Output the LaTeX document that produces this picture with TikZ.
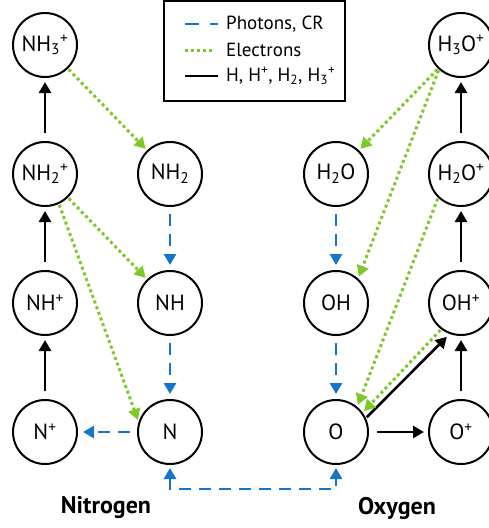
\documentclass[tikz,border=0pt]{standalone}
\usepackage{fontspec}
\setmainfont{PT Sans}
\usetikzlibrary{arrows.meta}
\usetikzlibrary{positioning}

\definecolor{photonblue}{RGB}{20,118,200}
\definecolor{electrongreen}{RGB}{126,200,40}

\begin{document}
\begin{tikzpicture}[node distance=129pt, x=1pt, y=1pt]
    % Define styles
    \tikzstyle{species} = [circle, draw, line width=2pt, minimum size=64pt, inner sep=0pt, font=\fontsize{22}{25}\selectfont]
    \tikzstyle{photon} = [-{Triangle[length=11pt,width=12pt]}, photonblue, line width=2.8pt, dash pattern=on 12pt off 8pt, shorten <=7pt, shorten >=5pt]
    \tikzstyle{electron} = [-{Triangle[length=11pt,width=12pt]}, electrongreen, line width=3pt, dash pattern=on 3pt off 3pt, shorten <=1pt, shorten >=2pt]
    \tikzstyle{reaction} = [-{Triangle[length=11pt,width=12pt]}, line width=2.6pt, shorten <=8pt, shorten >=4pt]
    \tikzstyle{legendtext} = [anchor=west, inner sep=0pt, font=\fontsize{19}{22}\selectfont]
    \tikzstyle{element} = [font=\fontsize{24}{27}\selectfont\bfseries]

    \useasboundingbox (0,0) rectangle (489,-528);

    % Nitrogen species
    \node[species] (nh3p) at (45,-45) {NH\textsubscript{3}\textsuperscript{+}};
    \node[species, below of=nh3p] (nh2p) {NH\textsubscript{2}\textsuperscript{+}};
    \node[species, below of=nh2p] (nhp) {NH\textsuperscript{+}};
    \node[species, below of=nhp] (np) {N\textsuperscript{+}};
    \node[species, right of=nh2p, xshift=-4pt] (nh2) {NH\textsubscript{2}};
    \node[species, below of=nh2] (nh) {NH};
    \node[species, below of=nh] (n) {N};

    % Oxygen species
    \node[species, right of=nh2, xshift=37pt] (h2o) {H\textsubscript{2}O};
    \node[species, below of=h2o] (oh) {OH};
    \node[species, below of=oh] (o) {O};
    \node[species, right of=h2o, xshift=-4pt] (h2op) {H\textsubscript{2}O\textsuperscript{+}};
    \node[species, above of=h2op] (h3op) {H\textsubscript{3}O\textsuperscript{+}};
    \node[species, below of=h2op] (ohp) {OH\textsuperscript{+}};
    \node[species, below of=ohp] (op) {O\textsuperscript{+}};

    % Labels
    \node[element] (nitrogen) at (106,-508) {Nitrogen};
    \node[element] (oxygen) at (397,-508) {Oxygen};

    % Legend
    \draw[line width=1.3pt] (164,-1) rectangle (345,-101);
    \node[legendtext] (lphoton) at (226,-24) {Photons, CR};
    \node[legendtext] (lelectron) at (226,-50) {Electrons};
    \node[legendtext] (lreaction) at (226,-76) {H, H\textsuperscript{+}, H\textsubscript{2}, H\textsubscript{3}\textsuperscript{+}};
    \coordinate (lphotonstart) at (185,-24);
    \coordinate (lelectronstart) at (185,-50);
    \coordinate (lreactionstart) at (185,-76);
    \draw[photonblue, line width=2.8pt, dash pattern=on 14pt off 11pt] (lphotonstart) -- ++(33,0);
    \draw[electrongreen, line width=3pt, dash pattern=on 3pt off 3pt] (lelectronstart) -- ++(29,0);
    \draw[line width=2.6pt] (lreactionstart) -- ++(33,0);

    % Relations, nitrogen
    \draw[reaction] (np) -- (nhp);
    \draw[reaction] (nhp) -- (nh2p);
    \draw[reaction] (nh2p) -- (nh3p);
    \draw[electron] (nh3p) -- (nh2);
    \draw[electron] (nh2p) -- (nh);
    \draw[electron] (nh2p.-65) -- (n.162);
    \draw[photon] (nh2) -- (nh);
    \draw[photon] (nh) -- (n);
    \draw[photon] (n) -- (np);

    % Relations, oxygen
    \draw[reaction] (op) -- (ohp);
    \draw[reaction] (ohp) -- (h2op);
    \draw[reaction] (h2op) -- (h3op);
    \draw[reaction] (o) -- (op);
    \draw[reaction, shorten <=1pt] (o.25) -- (ohp.250);
    \draw[electron] (h3op) -- (h2o);
    \draw[electron] (h3op.228) -- (oh.48);
    \draw[electron] (h2op.226) -- (o.50);
    \draw[electron] (ohp.233) -- (o.36);
    \draw[photon] (h2o) -- (oh);
    \draw[photon] (oh) -- (o);
    \draw[photon, {Triangle[length=11pt,width=12pt]}-{Triangle[length=11pt,width=12pt]}, shorten <=3pt, shorten >=3pt] (n.south) -- ++(0,-24) -| (o.south);

\end{tikzpicture}
\end{document}
